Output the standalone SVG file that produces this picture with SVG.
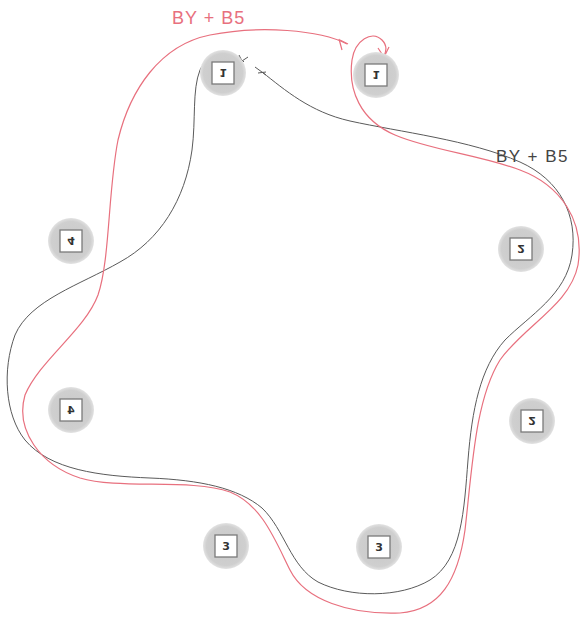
<svg xmlns="http://www.w3.org/2000/svg" width="585" height="619" viewBox="0 0 585 619">
<defs>
<radialGradient id="g" cx="0.5" cy="0.5" r="0.5">
<stop offset="0" stop-color="#c8c8c8"/>
<stop offset="0.85" stop-color="#cfcfcf"/>
<stop offset="1" stop-color="#e2e2e2"/>
</radialGradient>
<style>
.c{fill:url(#g);}
.b{fill:#ffffff;stroke:#7a7a7a;stroke-width:1.3;}
.t{font-family:"DejaVu Sans",sans-serif;font-size:11px;font-weight:bold;fill:#333;text-anchor:middle;}
.k{fill:none;stroke:#5a5a5a;stroke-width:1;}
.p{fill:none;stroke:#e8707e;stroke-width:1.2;}
.lp{font-family:"Liberation Sans",sans-serif;font-size:18px;letter-spacing:1px;fill:#e8707e;}
.lk{font-family:"Liberation Sans",sans-serif;font-size:17px;letter-spacing:1.5px;fill:#444;}
</style>
</defs>
<rect width="585" height="619" fill="#ffffff"/>
<g id="edges">
<path class="k" d="M262,72 C285,90 310,112 350,121 C400,132 470,140 520,162 C560,180 578,215 572,255 C566,295 530,315 505,340 C480,368 472,410 468,460 C464,510 462,560 430,580 C400,598 350,598 318,582 C290,566 285,530 262,508 C238,488 200,480 150,478 C100,476 50,470 25,440 C5,415 2,370 15,335 C30,300 80,285 120,262 C160,240 185,200 192,150 C196,120 192,90 200,70 C208,52 232,48 244,62"/>
<path class="k" d="M239,55 L242,61 L248,57 M255,67 L266,75 M258,73 L266,72"/>
<path class="p" d="M347,44 C320,30 260,25 210,35 C160,45 130,90 118,140 C108,190 110,260 98,295 C85,330 40,360 25,395 C15,430 40,465 80,478 C120,490 190,478 230,492 C262,505 275,540 290,570 C305,600 350,615 400,613 C440,610 458,580 465,530 C472,470 475,400 500,360 C525,325 570,305 578,265 C585,220 560,185 520,170 C480,155 430,150 395,135 C360,120 348,90 352,60 C355,40 372,30 382,40 C388,46 386,52 384,56"/>
<path class="p" d="M339,39 L342,50 M340,40 L348,44 M378,48 L384,57 L389,47"/>
<text class="lp" x="172" y="24">BY + B5</text>
<text class="lk" x="496" y="162">BY + B5</text>
</g>
<g id="n1a"><circle class="c" cx="223" cy="73" r="23"/><rect class="b" x="212" y="62" width="22" height="22"/><text class="t" transform="translate(223,73) scale(1,-1)" y="4">1</text></g>
<g id="n1b"><circle class="c" cx="376" cy="75" r="23"/><rect class="b" x="365" y="64" width="22" height="22"/><text class="t" transform="translate(376,75) scale(1,-1)" y="4">1</text></g>
<g id="n4a"><circle class="c" cx="71" cy="241" r="23"/><rect class="b" x="60" y="230" width="22" height="22"/><text class="t" transform="translate(71,241) scale(1,-1)" y="4">4</text></g>
<g id="n4b"><circle class="c" cx="71" cy="410" r="23"/><rect class="b" x="60" y="399" width="22" height="22"/><text class="t" transform="translate(71,410) scale(-1,1)" y="4">4</text></g>
<g id="n2a"><circle class="c" cx="521" cy="249" r="23"/><rect class="b" x="510" y="238" width="22" height="22"/><text class="t" transform="translate(521,249) scale(1,-1)" y="4">2</text></g>
<g id="n2b"><circle class="c" cx="532" cy="421" r="23"/><rect class="b" x="521" y="410" width="22" height="22"/><text class="t" transform="translate(532,421) scale(1,-1)" y="4">2</text></g>
<g id="n3a"><circle class="c" cx="226" cy="546" r="23"/><rect class="b" x="215" y="535" width="22" height="22"/><text class="t" x="226" y="550">3</text></g>
<g id="n3b"><circle class="c" cx="379" cy="547" r="23"/><rect class="b" x="368" y="536" width="22" height="22"/><text class="t" x="379" y="551">3</text></g>
</svg>
